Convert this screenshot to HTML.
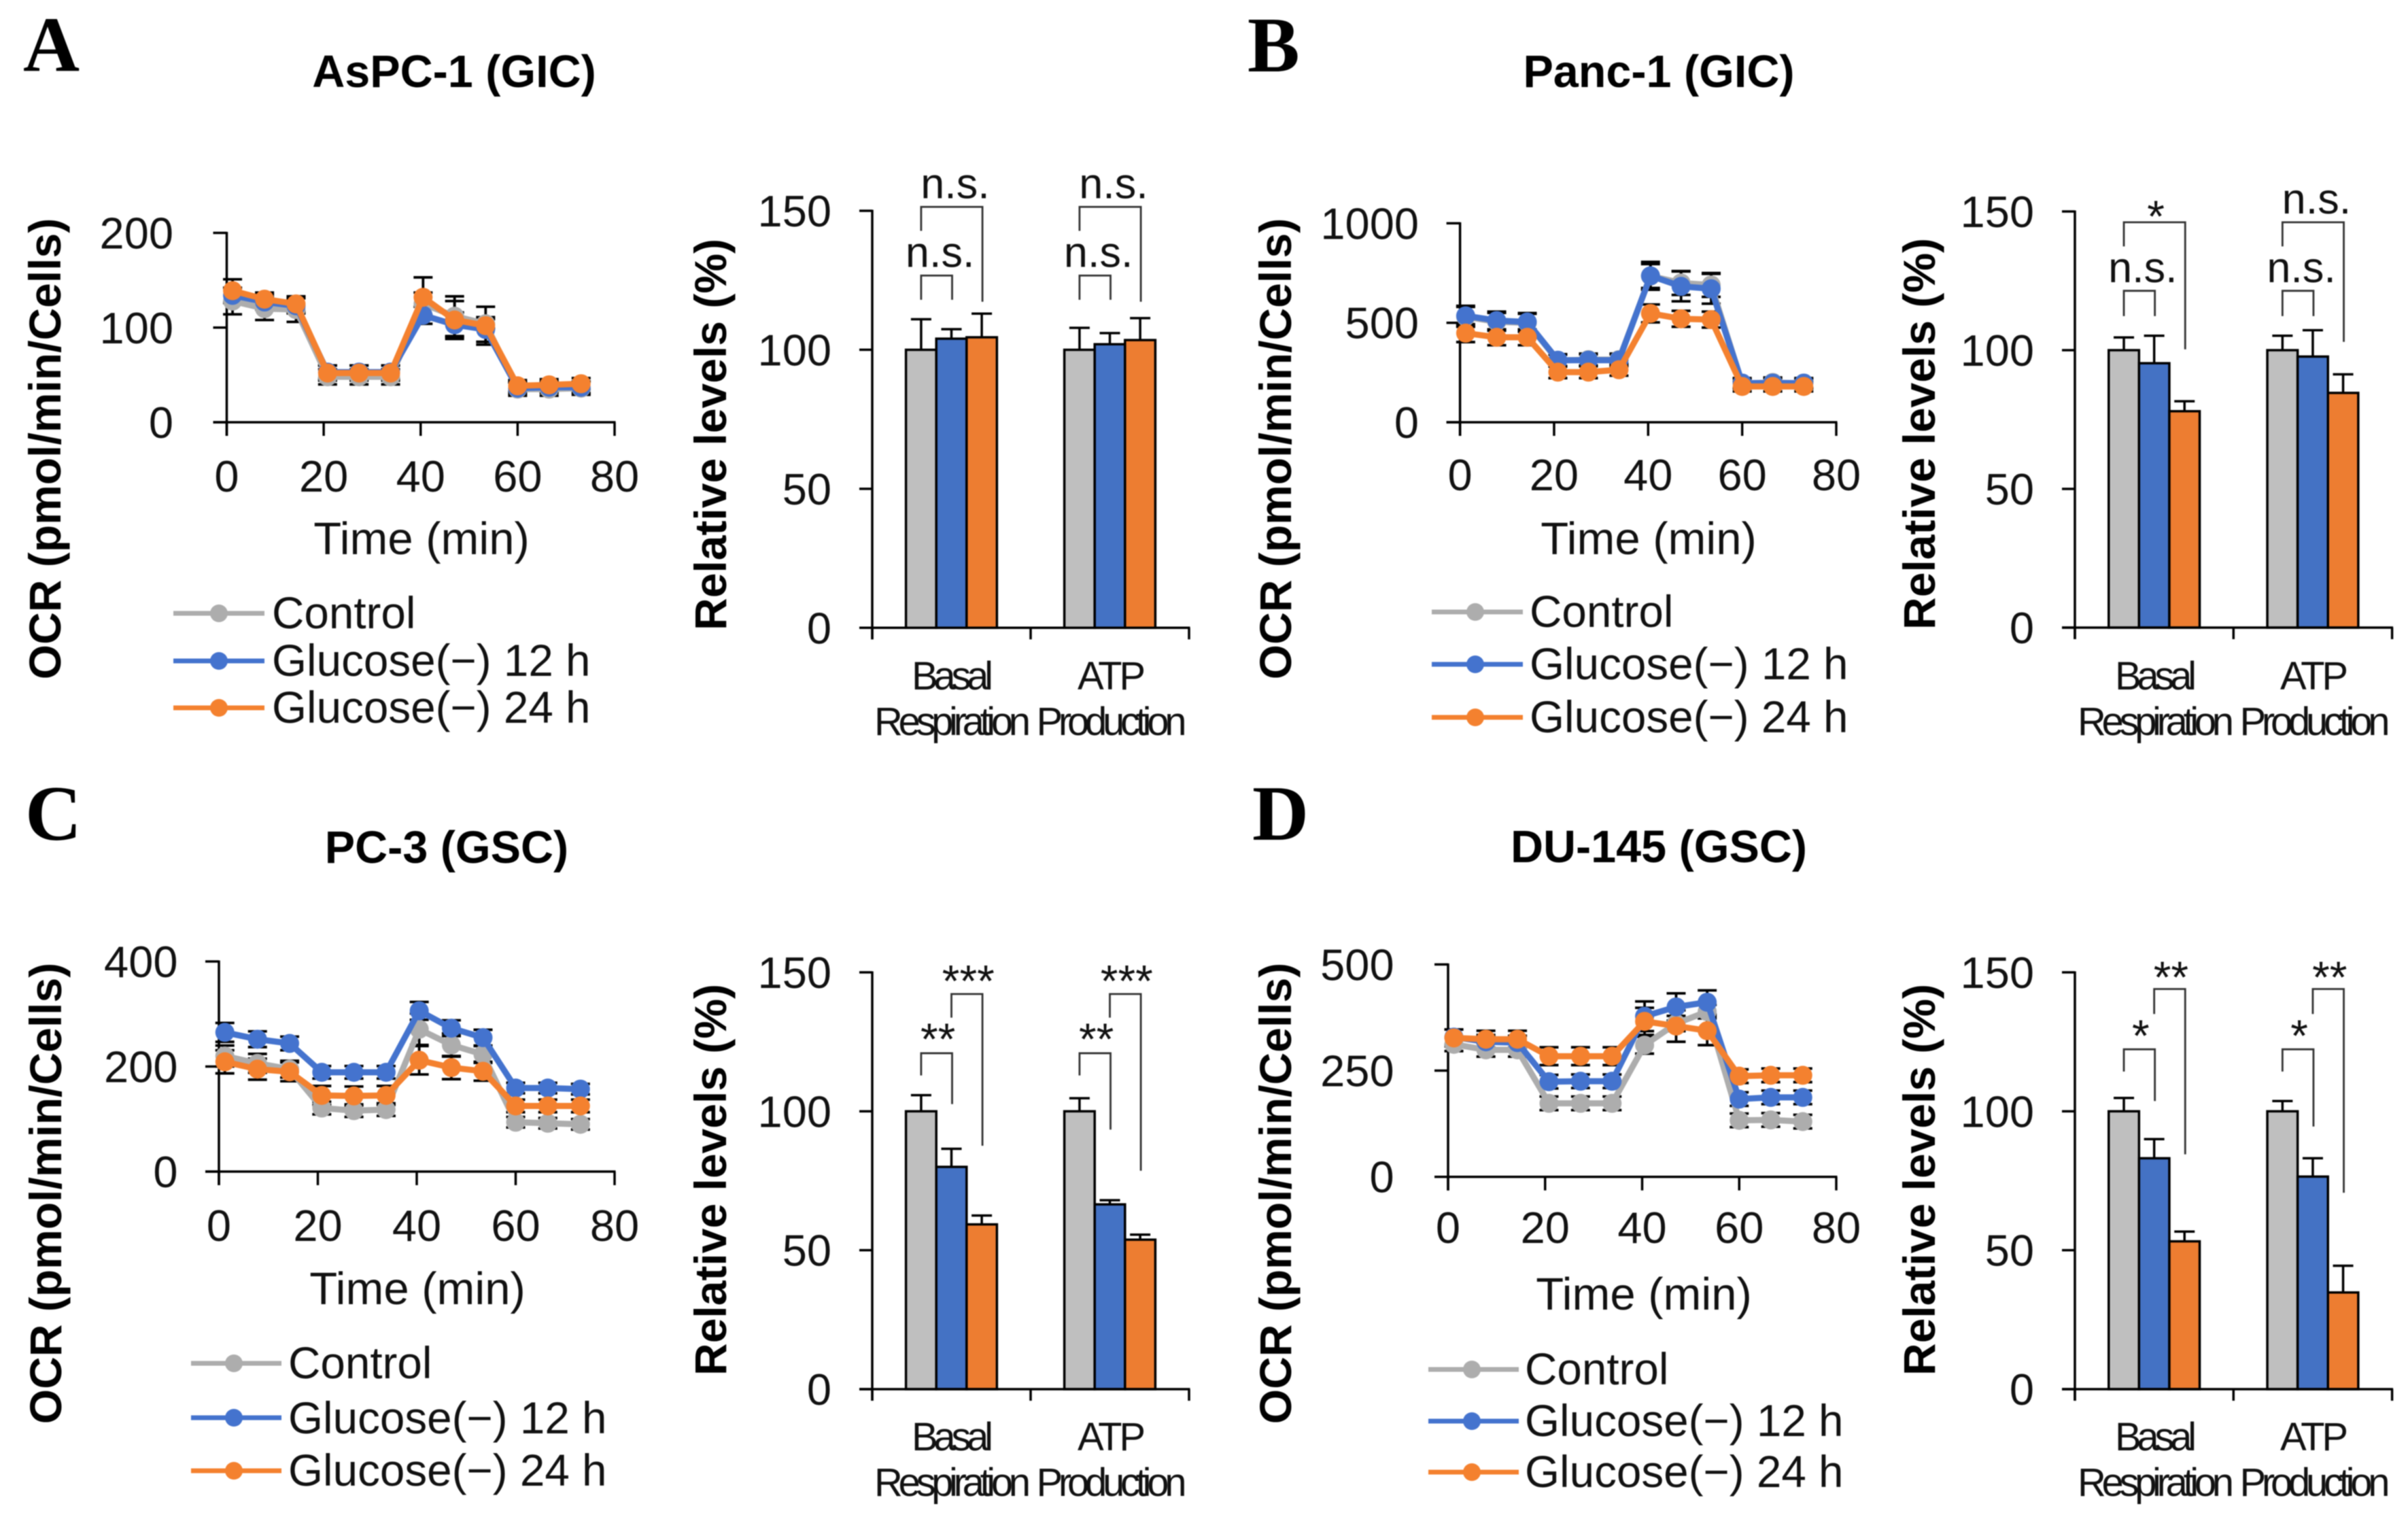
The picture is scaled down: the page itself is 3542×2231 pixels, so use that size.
<!DOCTYPE html>
<html lang="en">
<head>
<meta charset="utf-8">
<title>Oxygen consumption rate under glucose deprivation</title>
<style>
html,body{margin:0;padding:0;background:#fff;}
svg{display:block;filter:blur(0.7px);}
text{font-family:"Liberation Sans",Arial,sans-serif;fill:#111;}
.letter{font-family:"Liberation Serif","Times New Roman",serif;font-weight:bold;font-size:115px;fill:#000;}
.title{font-weight:bold;font-size:66.5px;text-anchor:middle;fill:#000;}
.ytitle{font-weight:bold;font-size:66px;text-anchor:middle;fill:#000;}
.xtitle{font-size:67px;text-anchor:middle;}
.legend{font-size:65.6px;}
.cat{font-size:58px;text-anchor:middle;}
.tick{font-size:65px;}
.sig{font-size:63px;text-anchor:middle;}
.stars{font-size:66px;}
</style>
</head>
<body>
<svg id="figure" xmlns="http://www.w3.org/2000/svg" width="3542" height="2231" viewBox="0 0 3542 2231">
<rect x="0" y="0" width="3542" height="2231" fill="#fff"/>

<text class="letter" x="34" y="104">A</text>
<text class="letter" x="1835" y="105">B</text>
<text class="letter" x="37" y="1235">C</text>
<text class="letter" x="1842" y="1235">D</text>

<text class="title" x="668" y="128">AsPC-1 (GIC)</text>
<text class="title" x="2440" y="128">Panc-1 (GIC)</text>
<text class="title" x="657" y="1269">PC-3 (GSC)</text>
<text class="title" x="2440" y="1268">DU-145 (GSC)</text>

<text class="ytitle" transform="translate(89 660) rotate(-90)">OCR (pmol/min/Cells)</text>
<text class="ytitle" transform="translate(1899 660) rotate(-90)">OCR (pmol/min/Cells)</text>
<text class="ytitle" transform="translate(90 1755) rotate(-90)">OCR (pmol/min/Cells)</text>
<text class="ytitle" transform="translate(1899 1755) rotate(-90)">OCR (pmol/min/Cells)</text>

<text class="ytitle" transform="translate(1068 639) rotate(-90)">Relative levels (%)</text>
<text class="ytitle" transform="translate(2846 638) rotate(-90)">Relative levels (%)</text>
<text class="ytitle" transform="translate(1068 1735) rotate(-90)">Relative levels (%)</text>
<text class="ytitle" transform="translate(2846 1735) rotate(-90)">Relative levels (%)</text>

<text class="xtitle" x="620" y="815">Time (min)</text>
<text class="xtitle" x="2425" y="815">Time (min)</text>
<text class="xtitle" x="614" y="1918">Time (min)</text>
<text class="xtitle" x="2418" y="1926">Time (min)</text>

<g>
<line x1="255" x2="389" y1="902" y2="902" stroke="#ADADAD" stroke-width="7"/><circle cx="322" cy="902" r="13" fill="#ADADAD"/><text class="legend" x="400" y="924">Control</text>
<line x1="255" x2="389" y1="972" y2="972" stroke="#4473CE" stroke-width="7"/><circle cx="322" cy="972" r="13" fill="#4473CE"/><text class="legend" x="400" y="994">Glucose(−) 12 h</text>
<line x1="255" x2="389" y1="1041" y2="1041" stroke="#F4812F" stroke-width="7"/><circle cx="322" cy="1041" r="13" fill="#F4812F"/><text class="legend" x="400" y="1063">Glucose(−) 24 h</text>
</g>
<g>
<line x1="2106" x2="2240" y1="900" y2="900" stroke="#ADADAD" stroke-width="7"/><circle cx="2170" cy="900" r="13" fill="#ADADAD"/><text class="legend" x="2250" y="922">Control</text>
<line x1="2106" x2="2240" y1="977" y2="977" stroke="#4473CE" stroke-width="7"/><circle cx="2170" cy="977" r="13" fill="#4473CE"/><text class="legend" x="2250" y="999">Glucose(−) 12 h</text>
<line x1="2106" x2="2240" y1="1055" y2="1055" stroke="#F4812F" stroke-width="7"/><circle cx="2170" cy="1055" r="13" fill="#F4812F"/><text class="legend" x="2250" y="1077">Glucose(−) 24 h</text>
</g>
<g>
<line x1="281" x2="414" y1="2005" y2="2005" stroke="#ADADAD" stroke-width="7"/><circle cx="344" cy="2005" r="13" fill="#ADADAD"/><text class="legend" x="424" y="2027">Control</text>
<line x1="281" x2="414" y1="2085" y2="2085" stroke="#4473CE" stroke-width="7"/><circle cx="344" cy="2085" r="13" fill="#4473CE"/><text class="legend" x="424" y="2108">Glucose(−) 12 h</text>
<line x1="281" x2="414" y1="2163" y2="2163" stroke="#F4812F" stroke-width="7"/><circle cx="344" cy="2163" r="13" fill="#F4812F"/><text class="legend" x="424" y="2185">Glucose(−) 24 h</text>
</g>
<g>
<line x1="2101" x2="2234" y1="2014" y2="2014" stroke="#ADADAD" stroke-width="7"/><circle cx="2165" cy="2014" r="13" fill="#ADADAD"/><text class="legend" x="2243" y="2036">Control</text>
<line x1="2101" x2="2234" y1="2090" y2="2090" stroke="#4473CE" stroke-width="7"/><circle cx="2165" cy="2090" r="13" fill="#4473CE"/><text class="legend" x="2243" y="2112">Glucose(−) 12 h</text>
<line x1="2101" x2="2234" y1="2165" y2="2165" stroke="#F4812F" stroke-width="7"/><circle cx="2165" cy="2165" r="13" fill="#F4812F"/><text class="legend" x="2243" y="2187">Glucose(−) 24 h</text>
</g>

<g>
<text class="cat" x="1401" y="1014" textLength="120" lengthAdjust="spacing">Basal</text>
<text class="cat" x="1401" y="1081" textLength="230" lengthAdjust="spacing">Respiration</text>
<text class="cat" x="1635" y="1014" textLength="100" lengthAdjust="spacing">ATP</text>
<text class="cat" x="1635" y="1081" textLength="221" lengthAdjust="spacing">Production</text>
</g>
<g>
<text class="cat" x="3171" y="1014" textLength="120" lengthAdjust="spacing">Basal</text>
<text class="cat" x="3171" y="1081" textLength="230" lengthAdjust="spacing">Respiration</text>
<text class="cat" x="3404" y="1014" textLength="100" lengthAdjust="spacing">ATP</text>
<text class="cat" x="3405" y="1081" textLength="221" lengthAdjust="spacing">Production</text>
</g>
<g>
<text class="cat" x="1401" y="2133" textLength="120" lengthAdjust="spacing">Basal</text>
<text class="cat" x="1401" y="2200" textLength="230" lengthAdjust="spacing">Respiration</text>
<text class="cat" x="1635" y="2133" textLength="100" lengthAdjust="spacing">ATP</text>
<text class="cat" x="1635" y="2200" textLength="221" lengthAdjust="spacing">Production</text>
</g>
<g>
<text class="cat" x="3171" y="2133" textLength="120" lengthAdjust="spacing">Basal</text>
<text class="cat" x="3171" y="2200" textLength="230" lengthAdjust="spacing">Respiration</text>
<text class="cat" x="3404" y="2133" textLength="100" lengthAdjust="spacing">ATP</text>
<text class="cat" x="3405" y="2200" textLength="221" lengthAdjust="spacing">Production</text>
</g>
</svg>

<script>
// ---- shared axis data ----
const lineTimes = [1.2, 7.8, 14.3, 20.8, 27.3, 33.8, 40.5, 47, 53.4, 60, 66.5, 73.1];
const lineXTickLabels = [0, 20, 40, 60, 80];
const barYTickLabels = [0, 50, 100, 150];
const barGroups = ['basal-respiration', 'atp-production'];
const seriesKeys = ['control', 'glucose-12h', 'glucose-24h'];

// ---- panel A line chart ----
const aYTicks = [0, 100, 200];
const aControl = [128, 120, 119, 48, 48, 48, 125, 112, 104, 35, 35, 36];
const aControlErr = [14, 12, 13, 8, 8, 8, 12, 21, 5, 7, 7, 7];
const aGlu12 = [134, 127, 123, 53, 53, 53, 113, 103, 98, 36, 37, 37];
const aGlu12Err = [8, 8, 8, 7, 7, 7, 9, 13, 13, 6, 6, 6];
const aGlu24 = [139, 130, 125, 52, 52, 52, 132, 108, 102, 38.5, 39.5, 40.7];
const aGlu24Err = [12, 7, 8, 8, 8, 8, 21, 20, 20, 6, 6, 6];

// ---- panel B line chart ----
const bYTicks = [0, 500, 1000];
const bControl = [530, 505, 500, 310, 315, 315, 735, 700, 690, 195, 200, 195];
const bControlErr = [50, 45, 45, 30, 30, 30, 60, 60, 60, 25, 25, 25];
const bGlu12 = [535, 511, 504, 312, 312, 312, 736, 683, 671, 197, 197, 197];
const bGlu12Err = [50, 45, 45, 30, 30, 30, 70, 75, 75, 25, 25, 25];
const bGlu24 = [448, 427, 427, 252, 252, 264, 547, 520, 516, 180, 180, 180];
const bGlu24Err = [45, 40, 40, 30, 30, 30, 45, 40, 40, 25, 25, 25];

// ---- panel C line chart ----
const cYTicks = [0, 200, 400];
const cControl = [220, 206, 195, 121, 116, 118, 271, 241, 223, 94, 92, 90];
const cControlErr = [20, 18, 16, 12, 12, 12, 30, 22, 16, 10, 10, 10];
const cGlu12 = [265, 252, 244, 189, 189, 189, 306, 273, 255, 159, 159, 157];
const cGlu12Err = [18, 15, 13, 12, 12, 12, 17, 15, 15, 10, 10, 10];
const cGlu24 = [209, 195, 190, 145, 144, 145, 212, 198, 191, 125, 125, 125];
const cGlu24Err = [22, 20, 18, 18, 18, 18, 27, 22, 18, 12, 12, 12];

// ---- panel D line chart ----
const dYTicks = [0, 250, 500];
const dControl = [312, 299, 299, 173, 173, 173, 310, 361, 389, 133, 134, 130];
const dControlErr = [16, 16, 16, 16, 16, 16, 20, 18, 16, 16, 16, 16];
const dGlu12 = [329, 318, 316, 224, 225, 225, 378, 400, 411, 183, 187, 187];
const dGlu12Err = [18, 16, 16, 16, 16, 16, 35, 32, 28, 16, 16, 16];
const dGlu24 = [327, 324, 324, 284, 284, 284, 366, 355, 344, 237, 239, 239];
const dGlu24Err = [20, 20, 20, 21, 21, 21, 32, 37, 34, 16, 16, 16];

// ---- bar charts: [basal respiration, ATP production] ----
const aBarControl = [100, 100];
const aBarGlu12 = [104, 102];
const aBarGlu24 = [104.5, 103.5];
const aBarControlErr = [11, 7.9];
const aBarGlu12Err = [3.4, 4];
const aBarGlu24Err = [8.5, 7.9];

const bBarControl = [100, 100];
const bBarGlu12 = [95.3, 97.7];
const bBarGlu24 = [78, 84.6];
const bBarControlErr = [4.6, 5.2];
const bBarGlu12Err = [9.9, 9.5];
const bBarGlu24Err = [3.6, 6.7];

const cBarControl = [100, 100];
const cBarGlu12 = [80, 66.5];
const cBarGlu24 = [59.3, 53.8];
const cBarControlErr = [5.8, 4.7];
const cBarGlu12Err = [6.5, 1.5];
const cBarGlu24Err = [3.2, 1.8];

const dBarControl = [100, 100];
const dBarGlu12 = [83.1, 76.5];
const dBarGlu24 = [53.2, 34.8];
const dBarControlErr = [4.8, 3.7];
const dBarGlu12Err = [6.9, 6.6];
const dBarGlu24Err = [3.5, 9.6];

// ---- significance brackets: group, fromBar, toBar, topValue, leftEndValue, rightEndValue, label, labelValue ----
const aBrackets = [
  [0, 0, 1, 126.7, 118, 118, 'n.s.', 129.8],
  [0, 0, 2, 151.4, 142.8, 117.3, 'n.s.', 154.5],
  [1, 0, 1, 126.7, 118, 118, 'n.s.', 129.8],
  [1, 0, 2, 151.4, 142.8, 117.3, 'n.s.', 154.5]
];
const bBrackets = [
  [0, 0, 1, 121.4, 112.3, 112.3, 'n.s.', 124.5],
  [0, 0, 2, 146.1, 137.4, 100.3, '*', 150],
  [1, 0, 1, 121.4, 112.3, 112.3, 'n.s.', 124.5],
  [1, 0, 2, 146.1, 137.4, 103, 'n.s.', 149.3]
];
const cBrackets = [
  [0, 0, 1, 120.9, 112.9, 102.6, '**', 127.7],
  [0, 1, 2, 142.2, 133.7, 87.6, '***', 148.6],
  [1, 0, 1, 120.9, 112.9, 93.4, '**', 127.7],
  [1, 1, 2, 142.2, 133.7, 78.6, '***', 148.6]
];
const dBrackets = [
  [0, 0, 1, 122.3, 114.3, 103.7, '*', 129],
  [0, 1, 2, 144, 135, 84.5, '**', 150],
  [1, 0, 1, 122.3, 114.3, 94.5, '*', 129],
  [1, 1, 2, 144, 135, 70.7, '**', 150]
];

const lineColors = ['#ADADAD', '#4473CE', '#F4812F'];
const barColors = ['#BFBFBF', '#4472C4', '#ED7D31'];
const figure = document.getElementById('figure');

function add(parent, tag, attrs, name) {
  const node = document.createElementNS('http://www.w3.org/2000/svg', tag);
  for (const key in attrs) node.setAttribute(key, attrs[key]);
  
  
  parent.appendChild(node);
  return node;
}

function drawLineChart(panel, box, yTicks, values, errors) {
  const root = add(figure, 'g', {}, 'panel-' + panel + '-line-chart');
  const yMax = yTicks[yTicks.length - 1];
  const xMax = lineXTickLabels[lineXTickLabels.length - 1];
  const xPos = t => box.left + (t / xMax) * (box.right - box.left);
  const yPos = v => box.bottom - (v / yMax) * (box.bottom - box.top);

  const axisStyle = { stroke: '#000', 'stroke-width': 3.5 };
  add(root, 'line', Object.assign({ x1: xPos(0), x2: xPos(0), y1: yPos(yMax) - 1.5, y2: box.bottom + 20 }, axisStyle), 'y-axis-line');
  add(root, 'line', Object.assign({ x1: box.left - 20, x2: xPos(xMax) + 1.5, y1: box.bottom, y2: box.bottom }, axisStyle), 'x-axis-line');

  yTicks.forEach(v => {
    add(root, 'line', Object.assign({ x1: box.left - 20, x2: box.left, y1: yPos(v), y2: yPos(v) }, axisStyle), 'y-tick');
    const label = add(root, 'text', { class: 'tick', x: box.labelRight, y: yPos(v) + 23, 'text-anchor': 'end' }, 'y-tick-label');
    label.textContent = v;
  });
  lineXTickLabels.forEach(v => {
    add(root, 'line', Object.assign({ x1: xPos(v), x2: xPos(v), y1: box.bottom, y2: box.bottom + 20 }, axisStyle), 'x-tick');
    const label = add(root, 'text', { class: 'tick', x: xPos(v), y: box.tickBase, 'text-anchor': 'middle' }, 'x-tick-label');
    label.textContent = v;
  });

  values.forEach((series, s) => {
    series.forEach((v, i) => {
      const x = xPos(lineTimes[i]);
      const hi = yPos(v + errors[s][i]);
      const lo = yPos(v - errors[s][i]);
      const style = { stroke: '#000', 'stroke-width': 3.8 };
      add(root, 'line', Object.assign({ x1: x, x2: x, y1: hi, y2: lo }, style), seriesKeys[s] + '-error-stem');
      add(root, 'line', Object.assign({ x1: x - 14, x2: x + 14, y1: hi, y2: hi }, style), seriesKeys[s] + '-error-cap-upper');
      add(root, 'line', Object.assign({ x1: x - 14, x2: x + 14, y1: lo, y2: lo }, style), seriesKeys[s] + '-error-cap-lower');
    });
  });

  values.forEach((series, s) => {
    const points = series.map((v, i) => xPos(lineTimes[i]) + ',' + yPos(v)).join(' ');
    add(root, 'polyline', { points: points, fill: 'none', stroke: lineColors[s], 'stroke-width': 9, 'stroke-linejoin': 'round' }, seriesKeys[s] + '-line');
    series.forEach((v, i) => {
      add(root, 'circle', { cx: xPos(lineTimes[i]), cy: yPos(v), r: 14, fill: lineColors[s] }, seriesKeys[s] + '-point');
    });
  });
}

function drawBarChart(panel, box, values, errors, brackets) {
  const root = add(figure, 'g', {}, 'panel-' + panel + '-bar-chart');
  const yMax = barYTickLabels[barYTickLabels.length - 1];
  const yPos = v => box.bottom - (v / yMax) * (box.bottom - box.top);
  const band = (box.right - box.left) / barGroups.length;
  const barWidth = 44.6;
  const barCenter = (g, s) => box.left + (g + 0.5) * band + (s - 1) * barWidth;

  const axisStyle = { stroke: '#000', 'stroke-width': 3.5 };

  values.forEach((series, s) => {
    series.forEach((v, g) => {
      const c = barCenter(g, s);
      const top = yPos(v + errors[s][g]);
      const style = { stroke: '#000', 'stroke-width': 3.5 };
      add(root, 'line', Object.assign({ x1: c, x2: c, y1: yPos(v), y2: top }, style), 'bar-error-stem');
      add(root, 'line', Object.assign({ x1: c - 15, x2: c + 15, y1: top, y2: top }, style), 'bar-error-cap');
    });
  });
  values.forEach((series, s) => {
    series.forEach((v, g) => {
      add(root, 'rect', { x: barCenter(g, s) - barWidth / 2, y: yPos(v), width: barWidth, height: box.bottom - yPos(v), fill: barColors[s], stroke: '#000', 'stroke-width': 3.5 }, 'bar-' + barGroups[g] + '-' + seriesKeys[s]);
    });
  });

  add(root, 'line', Object.assign({ x1: box.left, x2: box.left, y1: box.top - 1.5, y2: box.bottom + 17 }, axisStyle), 'y-axis-line');
  add(root, 'line', Object.assign({ x1: box.left - 19, x2: box.right + 1.5, y1: box.bottom, y2: box.bottom }, axisStyle), 'x-axis-line');
  barYTickLabels.forEach(v => {
    add(root, 'line', Object.assign({ x1: box.left - 19, x2: box.left, y1: yPos(v), y2: yPos(v) }, axisStyle), 'y-tick');
    const label = add(root, 'text', { class: 'tick', x: box.labelRight, y: yPos(v) + 23, 'text-anchor': 'end' }, 'y-tick-label');
    label.textContent = v;
  });
  for (let g = 0; g <= barGroups.length; g++) {
    const x = box.left + g * band;
    add(root, 'line', Object.assign({ x1: x, x2: x, y1: box.bottom, y2: box.bottom + 17 }, axisStyle), 'x-tick');
  }

  brackets.forEach(b => {
    const xa = barCenter(b[0], b[1]);
    const xb = barCenter(b[0], b[2]) + 1;
    const pts = xa + ',' + yPos(b[4]) + ' ' + xa + ',' + yPos(b[3]) + ' ' + xb + ',' + yPos(b[3]) + ' ' + xb + ',' + yPos(b[5]);
    add(root, 'polyline', { points: pts, fill: 'none', stroke: '#333', 'stroke-width': 2.8 }, 'significance-bracket');
    const isStars = b[6].charAt(0) === '*';
    const label = add(root, 'text', { class: isStars ? 'sig stars' : 'sig', x: (xa + xb) / 2 + (isStars ? 2 : 5), y: yPos(b[7]) + (isStars ? 30 : 0) }, 'significance-label');
    label.textContent = b[6];
  });
}

drawLineChart('a', { left: 333.5, right: 904, top: 342.5, bottom: 621, labelRight: 255, tickBase: 723 }, aYTicks,
  [aControl, aGlu12, aGlu24], [aControlErr, aGlu12Err, aGlu24Err]);
drawLineChart('b', { left: 2147.6, right: 2701, top: 328.4, bottom: 621, labelRight: 2087, tickBase: 721 }, bYTicks,
  [bControl, bGlu12, bGlu24], [bControlErr, bGlu12Err, bGlu24Err]);
drawLineChart('c', { left: 322, right: 904, top: 1414, bottom: 1723, labelRight: 261.5, tickBase: 1825 }, cYTicks,
  [cControl, cGlu12, cGlu24], [cControlErr, cGlu12Err, cGlu24Err]);
drawLineChart('d', { left: 2130, right: 2701, top: 1418.4, bottom: 1730.7, labelRight: 2050.6, tickBase: 1828 }, dYTicks,
  [dControl, dGlu12, dGlu24], [dControlErr, dGlu12Err, dGlu24Err]);

drawBarChart('a', { left: 1283, right: 1749, top: 310, bottom: 923.3, labelRight: 1223 },
  [aBarControl, aBarGlu12, aBarGlu24], [aBarControlErr, aBarGlu12Err, aBarGlu24Err], aBrackets);
drawBarChart('b', { left: 3052, right: 3518.6, top: 311, bottom: 923, labelRight: 2992 },
  [bBarControl, bBarGlu12, bBarGlu24], [bBarControlErr, bBarGlu12Err, bBarGlu24Err], bBrackets);
drawBarChart('c', { left: 1283, right: 1749, top: 1430, bottom: 2043, labelRight: 1223 },
  [cBarControl, cBarGlu12, cBarGlu24], [cBarControlErr, cBarGlu12Err, cBarGlu24Err], cBrackets);
drawBarChart('d', { left: 3052, right: 3518.6, top: 1430, bottom: 2043, labelRight: 2992 },
  [dBarControl, dBarGlu12, dBarGlu24], [dBarControlErr, dBarGlu12Err, dBarGlu24Err], dBrackets);
</script>
</body>
</html>
